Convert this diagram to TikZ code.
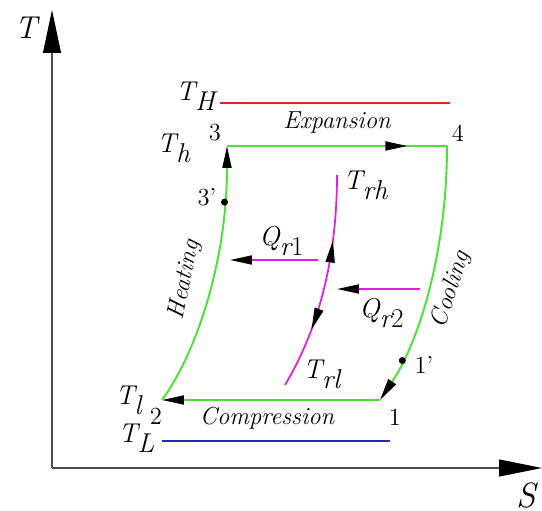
\documentclass[tikz,border=0pt]{standalone}
\usepackage{fontspec}
\usetikzlibrary{arrows.meta,decorations.markings}

\definecolor{cyclegreen}{RGB}{75,225,55}
\definecolor{hotred}{RGB}{228,32,32}
\definecolor{coldblue}{RGB}{32,42,178}
\definecolor{regmagenta}{RGB}{226,30,226}
\newcommand{\varlab}[2]{$\textit{#1}_{\textit{#2}}$}

\begin{document}
\begin{tikzpicture}[x=0.02cm, y=-0.02cm,
    >={Triangle[length=0.44cm,width=0.18cm,color=black]},
    big/.style={font=\fontsize{15.5}{17}\selectfont},
    word/.style={font=\fontsize{14}{15}\selectfont\itshape},
    num/.style={font=\fontsize{14}{15}\selectfont},
    cycle line/.style={cyclegreen, line width=1.1pt},
    midarrow/.style={postaction={decorate}, decoration={markings, mark=at position #1 with {\arrow{>}}}}]
    \useasboundingbox (0,0) rectangle (542,511);
    % axes
    \coordinate (origin) at (52,468);
    \coordinate (ttip) at (52,10);
    \coordinate (stip) at (542,468);
    \draw[black!70, line width=0.6pt, -{Triangle[length=0.86cm,width=0.36cm,color=black]}] (origin) -- (ttip);
    \draw[black!70, line width=0.6pt, -{Triangle[length=0.86cm,width=0.34cm,color=black]}] (origin) -- (stip);
    \node[font=\fontsize{18}{20}\selectfont\itshape] (tax) at (26,28) {T};
    \node[font=\fontsize{20}{22}\selectfont\itshape, inner sep=1pt] (sax) at (526,495) {S};
    % source and sink temperatures
    \draw[hotred, line width=1.4pt] (220,103) -- (450,103);
    \draw[coldblue, line width=1.4pt] (162,441) -- (390,441);
    \node[big] (thlab) at (196,96) {\varlab{T}{H}};
    \node[big] (tLlab) at (137,438) {\varlab{T}{L}};
    % green cycle
    \coordinate (p1) at (380,400);
    \coordinate (p2) at (162,400);
    \coordinate (p3) at (227,146);
    \coordinate (p4) at (447,146);
    \draw[cycle line, ->] (p1) -- (p2);
    \draw[cycle line, ->] (p2) .. controls (197,352) and (227,260) .. coordinate[pos=0.83] (p3b) (p3);
    \draw[cycle line, midarrow=0.82] (p3) -- (p4);
    \draw[cycle line, ->] (p4) .. controls (447,250) and (420,340) .. coordinate[pos=0.8] (p1b) (p1);
    \fill (p3b) circle (2pt);
    \fill (p1b) circle (2pt);
    \node[num] (n1) at (395,417) {1};
    \node[num] (n2) at (156,416) {2};
    \node[num] (n3) at (215,133) {3};
    \node[num] (n4) at (458,133) {4};
    \node[num] (n3b) at (207,197) {3'};
    \node[num] (n1b) at (424,365) {1'};
    \node[big] (thhlab) at (174,148) {\varlab{T}{h}};
    \node[big] (tllab) at (129,400) {\varlab{T}{l}};
    \node[word] (exp) at (337,123) {Expansion};
    \node[word] (comp) at (267,418) {Compression};
    \node[word, rotate=78] (heat) at (185,280) {Heating};
    \node[word, rotate=72] (cool) at (451,290) {Cooling};
    % regenerator
    \coordinate (trh) at (337,175);
    \coordinate (trl) at (285,385);
    \draw[regmagenta, line width=1pt, postaction={decorate},
        decoration={markings, mark=at position 0.3 with {\arrowreversed{>}}, mark=at position 0.72 with {\arrow{>}}}]
        (trh) .. controls (337,260) and (318,330) .. (trl);
    \node[big] (trhlab) at (366,185) {\varlab{T}{rh}};
    \node[big] (trllab) at (322,374) {\varlab{T}{rl}};
    \coordinate (q1s) at (318,260);
    \coordinate (q1e) at (230,260);
    \coordinate (q2s) at (420,289);
    \coordinate (q2e) at (337,289);
    \draw[regmagenta, line width=1pt, ->] (q1s) -- (q1e);
    \draw[regmagenta, line width=1pt, ->] (q2s) -- (q2e);
    \node[big] (q1lab) at (282,241) {$\textit{Q}_{\textit{r}\textrm{1}}$};
    \node[big] (q2lab) at (382,313) {$\textit{Q}_{\textit{r}\textrm{2}}$};
\end{tikzpicture}
\end{document}
